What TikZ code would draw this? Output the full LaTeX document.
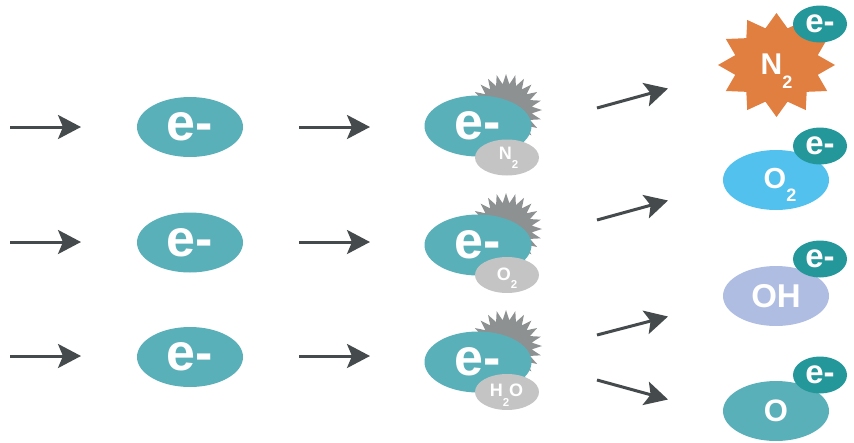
\documentclass[tikz,border=0pt]{standalone}
\usepackage{fontspec}
\setmainfont{Liberation Sans}
\usetikzlibrary{shapes.geometric,arrows.meta}
\definecolor{tealA}{RGB}{90,176,185}
\definecolor{tealB}{RGB}{35,151,154}
\definecolor{grayS}{RGB}{142,145,146}
\definecolor{grayL}{RGB}{196,196,196}
\definecolor{orangeN}{RGB}{224,127,64}
\definecolor{blueO}{RGB}{82,193,237}
\definecolor{lavOH}{RGB}{174,189,225}
\definecolor{arrowC}{RGB}{69,75,76}
\newcommand\myfs[1]{\fontsize{#1}{#1}\selectfont\bfseries}
\newcommand\mysub[3]{\raisebox{-#2}[0pt][0pt]{\myfs{#1}#3}}
% #1 cx, #2 cy, #3 last index (2n-1), #4 Rx, #5 Ry, #6 inner ratio, #7 colour
\newcommand\burst[7]{\fill[#7] plot[variable=\k, samples at={0,...,#3}]
  ({#1+ifthenelse(mod(\k,2)==0,1,#6)*#4*sin(\k*(360/(#3+1)))},
   {#2-ifthenelse(mod(\k,2)==0,1,#6)*#5*cos(\k*(360/(#3+1)))}) -- cycle;}
\begin{document}
\begin{tikzpicture}[x=1pt,y=-1pt,
  ebig/.style={ellipse, fill=tealA, minimum width=106pt, minimum height=60pt, inner sep=0pt, text=white, font=\myfs{52pt}},
  emid/.style={ebig, minimum width=107pt, minimum height=61pt},
  esmall/.style={ellipse, fill=tealB, minimum width=54pt, minimum height=37pt, inner sep=0pt, text=white, font=\myfs{33pt}},
  gsmall/.style={ellipse, fill=grayL, minimum width=64pt, minimum height=36pt, inner sep=0pt},
  mol/.style={ellipse, minimum width=106pt, minimum height=60pt, inner sep=0pt, text=white},
  lbl/.style={inner sep=0pt, text=white},
  arr/.style={line width=3pt, draw=arrowC, -{Stealth[length=23pt,width=24pt,inset=5pt]}}]
\useasboundingbox (0,0) rectangle (854,442);

% left column
\node[ebig] (L1) at (190,127) {e-};
\node[ebig] (L2) at (190,242.5) {e-};
\node[ebig] (L3) at (190,357) {e-};

% arrows column 1
\coordinate (a1s) at (10,127);  \coordinate (a1e) at (81,127);
\coordinate (a2s) at (10,242);  \coordinate (a2e) at (81,242);
\coordinate (a3s) at (10,356);  \coordinate (a3e) at (81,356);
\draw[arr] (a1s) -- (a1e);
\draw[arr] (a2s) -- (a2e);
\draw[arr] (a3s) -- (a3e);

% arrows column 2
\coordinate (b1s) at (299,127); \coordinate (b1e) at (370,127);
\coordinate (b2s) at (299,242); \coordinate (b2e) at (370,242);
\coordinate (b3s) at (299,356); \coordinate (b3e) at (370,356);
\draw[arr] (b1s) -- (b1e);
\draw[arr] (b2s) -- (b2e);
\draw[arr] (b3s) -- (b3e);

% middle column: starbursts behind
\burst{506}{110}{47}{36}{36}{0.72}{grayS}
\burst{506}{229}{47}{36}{36}{0.72}{grayS}
\burst{506}{346}{47}{36}{36}{0.72}{grayS}
\node[emid] (M1) at (478,126) {e-};
\node[emid] (M2) at (478,245) {e-};
\node[emid] (M3) at (478,362) {e-};
\node[gsmall] (G1) at (507,157.5) {};
\node[gsmall] (G2) at (507,275) {};
\node[gsmall] (G3) at (507,392) {};
\node[lbl, font=\myfs{18pt}] (t1) at (508.5,153.5) {N\mysub{11.5pt}{9pt}{2}};
\node[lbl, font=\myfs{18pt}] (t2) at (507,274) {O\mysub{11.5pt}{8pt}{2}};
\node[lbl, font=\myfs{18pt}] (t3) at (506.5,390) {H\mysub{11.5pt}{10pt}{2}O};

% arrows column 3
\coordinate (c1s) at (597,108); \coordinate (c1e) at (668,88.5);
\coordinate (c2s) at (597,220); \coordinate (c2e) at (668,200.5);
\coordinate (c3s) at (597,335); \coordinate (c3e) at (668,316.5);
\coordinate (c4s) at (597,380); \coordinate (c4e) at (668,399.5);
\draw[arr] (c1s) -- (c1e);
\draw[arr] (c2s) -- (c2e);
\draw[arr] (c3s) -- (c3e);
\draw[arr] (c4s) -- (c4e);

% right column
\burst{776.5}{65}{23}{58.5}{52}{0.73}{orangeN}
\node[lbl, font=\myfs{30pt}] (tN) at (776.5,64) {N\mysub{18pt}{14pt}{2}};
\node[esmall] (S1) at (820,24) {e-};

\node[mol, fill=blueO] (R2) at (776,180) {};
\node[lbl, font=\myfs{29pt}] (tO2) at (780,178.5) {O\mysub{18pt}{13pt}{2}};
\node[esmall] (S2) at (820,146) {e-};

\node[mol, fill=lavOH, font=\myfs{33pt}] (R3) at (776,296) {OH};
\node[esmall] (S3) at (820,259) {e-};

\node[mol, fill=tealA, font=\myfs{31pt}] (R4) at (776,411) {O};
\node[esmall] (S4) at (820,375) {e-};
\end{tikzpicture}
\end{document}
